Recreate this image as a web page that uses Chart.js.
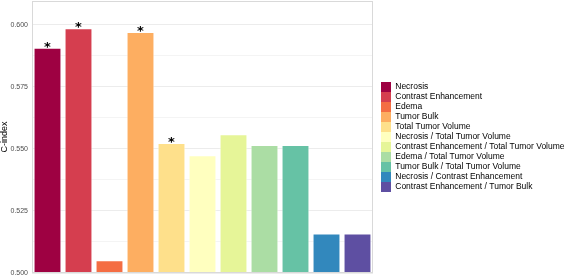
<!DOCTYPE html>
<html>
<head>
<meta charset="utf-8">
<script src="https://cdn.jsdelivr.net/npm/chart.js@4/dist/chart.umd.min.js"></script>
<style>
  html, body { margin: 0; padding: 0; background: #fff; }
  #wrap { width: 567px; height: 278px; }
</style>
</head>
<body>
<div id="wrap"><canvas id="cindexChart"></canvas></div>
<script>
"use strict";

// C-index per feature
const features = [
  "Necrosis",
  "Contrast Enhancement",
  "Edema",
  "Tumor Bulk",
  "Total Tumor Volume",
  "Necrosis / Total Tumor Volume",
  "Contrast Enhancement / Total Tumor Volume",
  "Edema / Total Tumor Volume",
  "Tumor Bulk / Total Tumor Volume",
  "Necrosis / Contrast Enhancement",
  "Contrast Enhancement / Tumor Bulk",
];
const cIndex = [0.5907, 0.5985, 0.5051, 0.597, 0.5523, 0.5474, 0.5559, 0.5515, 0.5515, 0.5159, 0.5159];
const significant = [true, true, false, true, true, false, false, false, false, false, false];
const colors = [
  "#9E0142", "#D53E4F", "#F46D43", "#FDAE61", "#FEE08B", "#FFFFBF",
  "#E6F598", "#ABDDA4", "#66C2A5", "#3288BD", "#5E4FA2",
];
const yTicks = [0.5, 0.525, 0.55, 0.575, 0.6];

// box around the panel
const panelBorder = {
  id: "panelBorder",
  afterDraw(chart) {
    const { ctx, chartArea } = chart;
    ctx.save();
    ctx.strokeStyle = "#d9d9d9";
    ctx.lineWidth = 1;
    ctx.strokeRect(chartArea.left + 0.5, chartArea.top + 0.5, chartArea.width - 1, chartArea.height - 1);
    ctx.restore();
  },
};

// asterisks on significant bars
const stars = {
  id: "stars",
  afterDatasetsDraw(chart) {
    const { ctx } = chart;
    const meta = chart.getDatasetMeta(0);
    ctx.save();
    ctx.fillStyle = "#000";
    ctx.font = "bold 13px 'DejaVu Sans'";
    ctx.textAlign = "center";
    ctx.textBaseline = "alphabetic";
    meta.data.forEach((bar, i) => {
      if (significant[i]) ctx.fillText("*", bar.x, bar.y + 3);
    });
    ctx.restore();
  },
};

const config = {
  type: "bar",
  data: {
    labels: features,
    datasets: [
      {
        data: cIndex,
        yAxisID: "y",
        xAxisID: "x",
        backgroundColor: colors,
        borderColor: "rgba(255,255,255,0.6)",
        borderWidth: 1,
        barPercentage: 0.9,
        categoryPercentage: 1,
      },
    ],
  },
  plugins: [panelBorder, stars],
  options: {
    responsive: true,
    maintainAspectRatio: false,
    animation: false,
    layout: { padding: { top: 1, right: 0, bottom: 5, left: 0 } },
    plugins: {
      tooltip: { enabled: false },
      legend: {
        position: "right",
        align: "center",
        maxWidth: 186,
        labels: {
          boxWidth: 10,
          boxHeight: 10,
          padding: 0,
          color: "#000",
          font: { family: "'Liberation Sans', Arial", size: 8.5 },
          generateLabels(chart) {
            return features.map((f, i) => ({
              text: f,
              fillStyle: colors[i],
              strokeStyle: colors[i],
              lineWidth: 0,
              index: i,
            }));
          },
        },
      },
    },
    scales: {
      x: {
        display: false,
      },
      // empty gap between panel and legend
      gap: {
        type: "linear",
        position: "right",
        display: true,
        ticks: { display: false },
        grid: { display: false },
        border: { display: false },
        afterFit(axis) { axis.width = 8; },
      },
      y: {
        min: 0.5,
        max: 0.6095,
        afterBuildTicks(axis) {
          const t = [];
          for (let i = 0; i <= 8; i++) t.push({ value: 0.5 + i * 0.0125 });
          axis.ticks = t;
        },
        afterFit(axis) {
          axis.width = 32;
          axis.paddingTop = 0;
          axis.paddingBottom = 0;
        },
        ticks: {
          color: "#4d4d4d",
          font: { family: "'Liberation Sans', Arial", size: 7 },
          padding: 4,
          callback(value) {
            const hit = yTicks.find((v) => Math.abs(v - value) < 1e-6);
            return hit !== undefined ? hit.toFixed(3) : "";
          },
        },
        grid: {
          drawTicks: false,
          color(ctx) {
            const v = ctx.tick ? ctx.tick.value : 0;
            return yTicks.some((y) => Math.abs(y - v) < 1e-6) ? "#ececec" : "#f4f4f4";
          },
        },
        border: { display: false },
        title: {
          display: true,
          text: "C-index",
          color: "#000",
          font: { family: "'Liberation Sans', Arial", size: 9, lineHeight: 1.1 },
          padding: { top: 0, bottom: 1 },
        },
      },
    },
  },
};

new Chart(document.getElementById("cindexChart"), config);
</script>
</body>
</html>
